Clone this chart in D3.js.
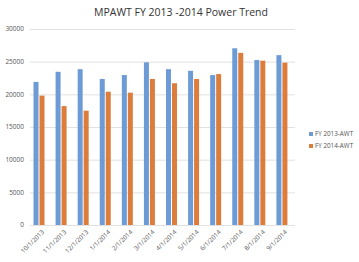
<!DOCTYPE html>
<html>
<head>
<meta charset="utf-8">
<script src="https://cdn.jsdelivr.net/npm/d3@7"></script>
<style>
  body { margin: 0; background: #fff; }
  text { font-family: 'Open Sans', 'Liberation Sans', sans-serif; }
</style>
</head>
<body>
<div id="chart"></div>
<script>
const months = ['10/1/2013', '11/1/2013', '12/1/2013', '1/1/2014', '2/1/2014', '3/1/2014',
  '4/1/2014', '5/1/2014', '6/1/2014', '7/1/2014', '8/1/2014', '9/1/2014']
const fy2013 = [21900, 23450, 23850, 22350, 22950, 24900, 23850, 23600, 22950, 27050, 25250, 26000]
const fy2014 = [19800, 18200, 17500, 20400, 20250, 22350, 21700, 22350, 23100, 26350, 25150, 24850]
const seriesNames = ['FY 2013-AWT', 'FY 2014-AWT']
const yTicks = [0, 5000, 10000, 15000, 20000, 25000, 30000]

const colors = ['#6d9bd6', '#dc7d3c']
const margin = { top: 29, left: 30, right: 64, bottom: 37 }
const W = 359
const H = 262
const width = W - margin.left - margin.right
const height = H - margin.top - margin.bottom

const svg = d3.select('#chart').append('svg')
  .attr('width', W)
  .attr('height', H)

svg.append('text')
  .attr('x', 181)
  .attr('y', 16)
  .attr('text-anchor', 'middle')
  .attr('font-size', 10.5)
  .attr('fill', '#333')
  .text('MPAWT FY 2013 -2014 Power Trend')

const g = svg.append('g')
  .attr('transform', `translate(${margin.left},${margin.top})`)

const x = d3.scaleBand().domain(months).range([0, width])
const y = d3.scaleLinear().domain([0, 30000]).range([height, 0])

// grid
g.selectAll('.grid')
  .data(yTicks)
  .enter()
  .append('line')
  .attr('x1', 0)
  .attr('x2', width)
  .attr('y1', d => y(d) + 0.5)
  .attr('y2', d => y(d) + 0.5)
  .attr('stroke', '#d9d9d9')
  .attr('stroke-width', 0.8)

g.selectAll('.ylab')
  .data(yTicks)
  .enter()
  .append('text')
  .attr('x', -6)
  .attr('y', d => y(d))
  .attr('dy', '0.35em')
  .attr('text-anchor', 'end')
  .attr('font-size', 6.5)
  .attr('fill', '#555')
  .text(d => d)

const barW = 5
const series = [fy2013, fy2014]
series.forEach((vals, si) => {
  g.selectAll('.bar' + si)
    .data(vals)
    .enter()
    .append('rect')
    .attr('x', (d, i) => x(months[i]) + 3.5 + si * (barW + 1))
    .attr('y', d => y(d))
    .attr('width', barW)
    .attr('height', d => height - y(d))
    .attr('fill', colors[si])
})

// x labels
g.selectAll('.xlab')
  .data(months)
  .enter()
  .append('text')
  .attr('transform', d => `translate(${x(d) + x.bandwidth() / 2 + 2},${height + 6}) rotate(-45)`)
  .attr('text-anchor', 'end')
  .attr('dy', '0.35em')
  .attr('font-size', 6.3)
  .attr('fill', '#555')
  .text(d => d)

// legend
const legend = svg.append('g')
  .attr('transform', 'translate(309,134)')
seriesNames.forEach((name, i) => {
  legend.append('rect')
    .attr('x', 0)
    .attr('y', i * 12 - 2)
    .attr('width', 4)
    .attr('height', 4)
    .attr('fill', colors[i])
  legend.append('text')
    .attr('x', 6)
    .attr('y', i * 12)
    .attr('dy', '0.35em')
    .attr('font-size', 6.3)
    .attr('fill', '#555')
    .text(name)
})
</script>
</body>
</html>
